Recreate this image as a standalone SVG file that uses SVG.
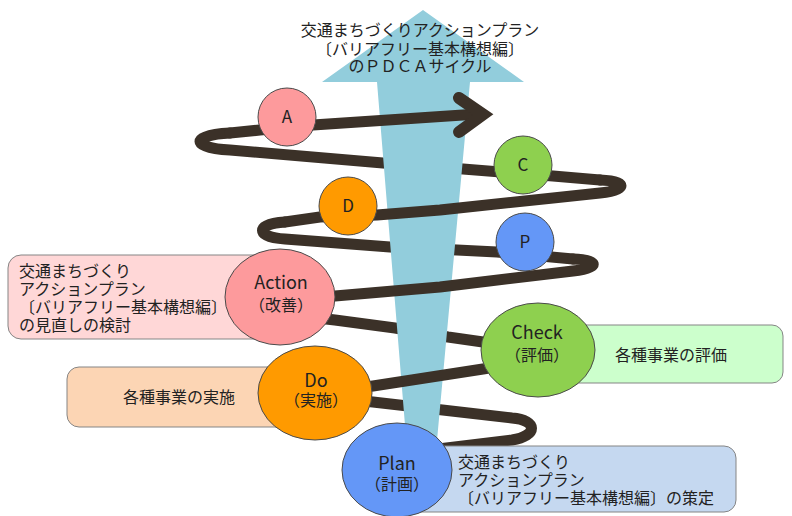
<svg xmlns="http://www.w3.org/2000/svg" width="792" height="516" viewBox="0 0 792 516">
<style>
.ln{fill:none;stroke:#3b3128;stroke-width:11;stroke-linecap:round;stroke-linejoin:round}
.hd{fill:none;stroke:#3b3128;stroke-width:12;stroke-linecap:round;stroke-linejoin:miter}
.t{font-family:"Noto Sans CJK JP","Noto Sans",sans-serif;fill:#222;font-size:16px}
.lat{font-family:"Noto Sans CJK JP","Noto Sans",sans-serif;fill:#222;font-size:18px}
.c{text-anchor:middle}
.el{stroke:#4a4a4a;stroke-width:1}
.bx{stroke:#858585;stroke-width:1}
</style>
<rect width="792" height="516" fill="#ffffff"/>
<g id="connectors-back">
<path class="ln" d="M430,450 L512,440 C538,436 538,420 512,418 L373,402 L345,399"/>
<path class="ln" d="M515,347 L483,342 L448,337 L395,328 L335,320 L300,316"/>
<path class="ln" d="M573,259 L497,252 L457,250 L390,247 L285,239 C255,237 255,224 285,222"/>
<path class="ln" d="M600,180 L553,176 L463,169 L383,163 L230,150 C190,148 190,135 230,133"/>
</g>
<g id="up-arrow">
<polygon points="423,10 524,82 470,82 435,462 408,462 377,82 322,82" fill="#92cddc"/>
</g>
<g id="connectors-front">
<path class="ln" d="M345,399 L345,390 L373,386 L483,369 L515,364 L515,347"/>
<path class="ln" d="M300,316 L300,299 L335,296 L440,287 L573,271 C600,268 600,260 573,259"/>
<path class="ln" d="M285,222 L320,217 L377,215 L440,210 L553,198 L600,193 C628,190 628,181 600,180"/>
<path class="ln" d="M230,133 L260,130 L313,125 L463,115 L480,114"/>
<path class="hd" d="M459,98 L483,114.5 L459,132"/>
</g>
<g id="title">
<text class="t c" x="420" y="36" fill="#333">交通まちづくりアクションプラン</text>
<text class="t c" x="420" y="55" fill="#333">〔バリアフリー基本構想編〕</text>
<text class="t c" x="420" y="72" fill="#333">のＰＤＣＡサイクル</text>
</g>
<g id="node-A">
<circle class="el" cx="287" cy="117" r="29" fill="#fd9a9c"/>
<text class="lat c" x="287" y="123" style="font-size:17px">A</text>
</g>
<g id="node-C">
<circle class="el" cx="523" cy="165" r="29" fill="#8ed04f"/>
<text class="lat c" x="523" y="171" style="font-size:17px">C</text>
</g>
<g id="node-D">
<circle class="el" cx="348" cy="206" r="29" fill="#ff9a00"/>
<text class="lat c" x="348" y="212" style="font-size:17px">D</text>
</g>
<g id="node-P">
<circle class="el" cx="525" cy="242" r="29" fill="#6497f7"/>
<text class="lat c" x="525" y="248" style="font-size:17px">P</text>
</g>
<g id="node-action">
<rect class="bx" x="8" y="255" width="280" height="84" rx="13" fill="#ffd7d7"/>
<text class="t" x="19" y="277">交通まちづくり</text>
<text class="t" x="19" y="295">アクションプラン</text>
<text class="t" x="19" y="313">〔バリアフリー基本構想編〕</text>
<text class="t" x="19" y="331">の見直しの検討</text>
<ellipse class="el" cx="280" cy="297" rx="55" ry="48" fill="#fd9a9c"/>
<text class="lat c" x="281" y="289">Action</text>
<text class="t c" x="281" y="311">（改善）</text>
</g>
<g id="node-do">
<rect class="bx" x="67" y="367" width="250" height="60" rx="12" fill="#fcd5b4"/>
<text class="t c" x="179" y="403">各種事業の実施</text>
<ellipse class="el" cx="315" cy="393" rx="57" ry="47" fill="#ff9a00"/>
<text class="lat c" x="316" y="386.5">Do</text>
<text class="t c" x="316" y="406">（実施）</text>
</g>
<g id="node-check">
<rect class="bx" x="535" y="325" width="248" height="58" rx="11" fill="#ccffcc"/>
<text class="t c" x="671" y="361">各種事業の評価</text>
<ellipse class="el" cx="538" cy="350" rx="57" ry="47" fill="#8ed04f"/>
<text class="lat c" x="537" y="338.5">Check</text>
<text class="t c" x="537" y="361">（評価）</text>
</g>
<g id="node-plan">
<rect class="bx" x="400" y="446" width="336" height="66" rx="12" fill="#c5d8f0"/>
<text class="t" x="458" y="468">交通まちづくり</text>
<text class="t" x="458" y="486">アクションプラン</text>
<text class="t" x="458" y="504">〔バリアフリー基本構想編〕の策定</text>
<ellipse class="el" cx="397" cy="470" rx="55" ry="47" fill="#6497f7"/>
<text class="lat c" x="397" y="469.5">Plan</text>
<text class="t c" x="397" y="490">（計画）</text>
</g>
</svg>
